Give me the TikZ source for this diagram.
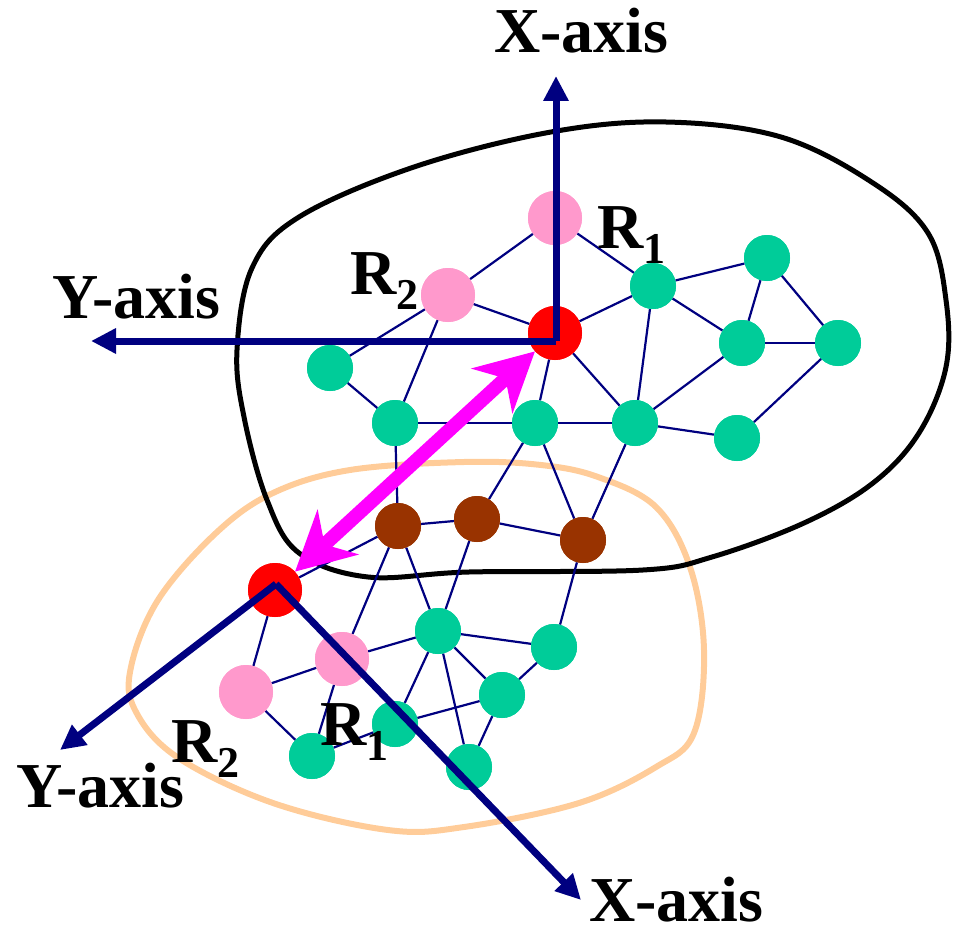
\documentclass[tikz,border=0pt]{standalone}
\usepackage{fontspec}
\setmainfont{Liberation Serif}
\usetikzlibrary{arrows.meta}
\definecolor{navy}{HTML}{000080}
\definecolor{gnode}{HTML}{00CC99}
\definecolor{pnode}{HTML}{FF99CC}
\definecolor{bnode}{HTML}{993300}
\definecolor{rnode}{HTML}{FF0000}
\definecolor{orangeline}{HTML}{FFCC99}
\definecolor{mag}{HTML}{FF00FF}
\begin{document}
\begin{tikzpicture}[x=1pt,y=-1pt,
  big/.style={circle,inner sep=0pt,minimum size=54pt},
  small/.style={circle,inner sep=0pt,minimum size=46pt},
  green/.style={small,fill=gnode},
  brown/.style={small,fill=bnode},
  pink/.style={big,fill=pnode},
  redn/.style={big,fill=rnode},
  edge/.style={draw=navy,line width=2.2pt},
  axis/.style={draw=navy,line width=7pt,-{Triangle[length=25pt,width=24pt]}},
  lab/.style={font=\fontsize{64}{64}\selectfont\bfseries,inner sep=0pt,anchor=base west,text depth=0pt},
  blob/.style={line width=5pt},
]
\useasboundingbox (0,0) rectangle (962,934);

% outlines
\draw[orangeline,line width=6pt] plot[smooth cycle,tension=0.6] coordinates {
 (464,462) (541,465) (598,477) (656,507) (690,567) (704,650) (694,733) (656,767)
 (579,803) (464,827) (388,830) (273,803) (177,757) (135,710) (131,667) (158,600)
 (216,533) (273,493) (350,470)};
\draw[black,blob] plot[smooth cycle,tension=0.6] coordinates {
 (237,350) (252,268) (299,217) (414,167) (551,132) (666,122) (781,137) (873,183)
 (928,233) (946,300) (946,367) (919,433) (873,483) (804,523) (712,557) (643,570)
 (469,572) (368,577) (299,553) (267,500) (244,417)};

% nodes
\node[pink] (R1t) at (555,218) {};
\node[pink] (R2t) at (448,295) {};
\node[redn] (A) at (555,333) {};
\node[green] (g1) at (330,368) {};
\node[green] (g2) at (395,423) {};
\node[green] (g3) at (535,423) {};
\node[green] (g4) at (635,423) {};
\node[green] (g5) at (653,286) {};
\node[green] (g6) at (767,258) {};
\node[green] (g7) at (742,343) {};
\node[green] (g8) at (838,343) {};
\node[green] (g9) at (737,438) {};
\node[brown] (b1) at (398,526) {};
\node[brown] (b2) at (477,519) {};
\node[brown] (b3) at (583,540) {};
\node[redn] (B) at (275,590) {};
\node[pink] (R1l) at (342,659) {};
\node[pink] (R2l) at (246,692) {};
\node[green] (l1) at (438,631) {};
\node[green] (l2) at (554,647) {};
\node[green] (l3) at (502,695) {};
\node[green] (l4) at (395,724) {};
\node[green] (l5) at (312,756) {};
\node[green] (l6) at (469,767) {};

% edges
\foreach \a/\b in {R1t/R2t,R1t/g5,R2t/A,R2t/g1,R2t/g2,A/g5,A/g3,A/g4,g1/g2,g2/g3,g3/g4,
  g5/g6,g5/g7,g5/g4,g6/g7,g6/g8,g7/g8,g7/g4,g8/g9,g4/g9,g2/b1,g3/b2,g3/b3,g4/b3,
  b1/b2,b2/b3,b1/B,b1/R1l,b1/l1,b2/l1,b3/l2,B/R2l,R2l/R1l,R1l/l1,R2l/l5,R1l/l5,
  l5/l4,l1/l4,l1/l6,l1/l3,l1/l2,l4/l3,l3/l6,l3/l2}
  \draw[edge] (\a) -- (\b);

% redraw node discs on top of edges
\foreach \n/\c/\s in {R1t/pnode/54,R2t/pnode/54,A/rnode/54,B/rnode/54,R1l/pnode/54,R2l/pnode/54,
  g1/gnode/46,g2/gnode/46,g3/gnode/46,g4/gnode/46,g5/gnode/46,g6/gnode/46,g7/gnode/46,g8/gnode/46,g9/gnode/46,
  b1/bnode/46,b2/bnode/46,b3/bnode/46,l1/gnode/46,l2/gnode/46,l3/gnode/46,l4/gnode/46,l5/gnode/46,l6/gnode/46}
  \fill[\c] (\n.center) circle ({\s/2*1pt});

% axes
\coordinate (O1) at (556,341);
\coordinate (O2) at (276,584);
\coordinate (X1) at (556,76);
\coordinate (Y1) at (91,341);
\coordinate (Y2) at (60,750);
\coordinate (X2) at (581,900);
\draw[axis] (O1) -- (X1);
\draw[axis] (O1) -- (Y1);
\draw[axis] (O2) -- (Y2);
\draw[axis] (O2) -- (X2);

% magenta double arrow
\draw[mag,line width=14pt,{Stealth[length=58pt,width=60pt,inset=18pt]}-{Stealth[length=58pt,width=60pt,inset=18pt]}]
  (B) -- (A);

% labels
\node[lab] (tx1) at (494,53) {X-axis};
\node[lab] (ty1) at (52,318) {Y-axis};
\node[lab] (ty2) at (16,807) {Y-axis};
\node[lab] (tx2) at (589,921) {X-axis};
\node[lab] (r1t) at (597,248) {R\raisebox{-15pt}{\fontsize{44}{44}\selectfont 1}};
\node[lab] (r2t) at (350,294) {R\raisebox{-15pt}{\fontsize{44}{44}\selectfont 2}};
\node[lab] (r1l) at (320,745) {R\raisebox{-15pt}{\fontsize{44}{44}\selectfont 1}};
\node[lab] (r2l) at (171,762) {R\raisebox{-15pt}{\fontsize{44}{44}\selectfont 2}};
\end{tikzpicture}
\end{document}
